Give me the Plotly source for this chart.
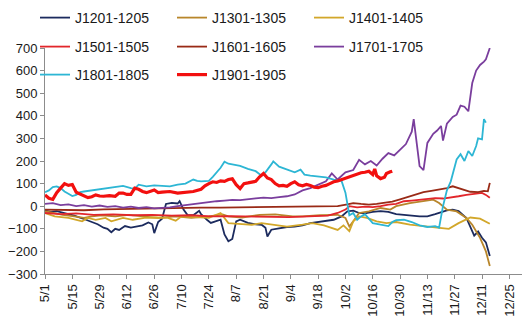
import pandas as pd
import plotly.graph_objects as go

# Spread of each contract pair, plotted on a common May-December calendar.
# Points are (days after May 1, spread value).
BASE = pd.Timestamp("2018-05-01")

j1201 = [(0, -20), (3, -25), (6, -22), (9, -30), (12, -35), (15, -42), (18, -50), (21, -60),
         (24, -70), (27, -80), (30, -95), (32, -100), (34, -115), (36, -100), (38, -105),
         (41, -88), (44, -95), (47, -90), (50, -85), (53, -72), (55, -80), (56, -119),
         (58, -70), (60, -55), (62, 10), (65, 15), (68, 12), (69, 22), (71, -15), (73, -38),
         (76, -40), (79, -20), (80, -35), (83, -60), (85, -74), (87, -68), (90, -60),
         (92, -125), (94, -155), (96, -145), (98, -67), (100, -60), (104, -74), (108, -80),
         (111, -82), (113, -95), (114, -134), (116, -104), (120, -98), (124, -92),
         (128, -90), (132, -85), (136, -75), (140, -70), (144, -65), (148, -60), (152, -45),
         (155, -23), (158, -20), (161, -30), (164, -32), (168, -25), (172, -22), (176, -25),
         (180, -35), (184, -40), (188, -42), (192, -45), (196, -45), (200, -35), (203, -25),
         (206, -18), (209, -15), (212, -22), (216, -52), (218, -90), (220, -130),
         (222, -112), (224, -140), (226, -160), (228, -220)]

j1301 = [(0, -22), (4, -30), (9, -38), (15, -45), (20, -52), (24, -45), (29, -40), (36, -45),
         (43, -38), (50, -45), (58, -52), (67, -45), (75, -52), (84, -45), (91, -36),
         (94, -45), (101, -50), (110, -38), (118, -36), (127, -45), (132, -45), (141, -40),
         (150, -38), (154, -52), (156, -90), (158, -67), (161, -30), (166, -23), (172, -8),
         (177, -15), (180, 0), (187, 14), (194, 22), (199, 29), (202, 14), (206, -15),
         (211, -23), (216, -52), (219, -82), (223, -140), (226, -200), (228, -265)]

j1401 = [(0, -30), (5, -45), (12, -52), (19, -67), (22, -52), (26, -60), (31, -52),
         (34, -67), (40, -52), (45, -60), (51, -52), (57, -50), (63, -52), (67, -64),
         (70, -45), (77, -48), (84, -52), (90, -30), (94, -75), (101, -79), (106, -82),
         (111, -75), (118, -82), (124, -90), (132, -82), (137, -75), (143, -85), (146, -95),
         (150, -105), (153, -85), (156, -110), (158, -67), (161, -45), (165, -52),
         (170, -67), (175, -75), (180, -70), (187, -82), (194, -90), (201, -95),
         (207, -100), (212, -75), (218, -50), (223, -55), (228, -78)]

j1501 = [(0, -30), (8, -35), (16, -32), (25, -38), (35, -36), (45, -40), (55, -38),
         (65, -42), (75, -40), (85, -45), (95, -44), (105, -46), (115, -45), (125, -48),
         (135, -45), (145, -42), (150, -30), (154, -15), (156, 0), (160, -5), (164, -2),
         (168, -4), (172, 0), (176, 7), (180, 10), (184, 22), (188, 25), (192, 29),
         (196, 32), (200, 36), (204, 34), (208, 38), (212, 44), (216, 50), (220, 56),
         (224, 59), (226, 50), (228, 37)]

j1601 = [(0, -15), (10, -15), (20, -18), (30, -14), (40, -12), (50, -12), (60, -10),
         (70, -8), (80, -6), (90, -6), (100, -5), (110, -4), (120, -2), (130, -2),
         (140, -1), (150, 0), (155, 8), (158, 14), (162, 10), (166, 7), (170, 10),
         (174, 14), (178, 20), (182, 30), (186, 40), (190, 52), (194, 62), (198, 68),
         (202, 74), (206, 80), (209, 88), (212, 80), (215, 70), (218, 64), (222, 62),
         (225, 68), (227, 66), (228, 103)]

j1701 = [(0, 10), (4, 14), (8, 5), (12, 8), (16, 0), (20, 5), (24, -2), (28, 3), (32, -3),
         (36, 0), (40, -6), (44, -2), (48, -8), (52, -4), (56, -10), (60, -8), (64, -5),
         (68, 0), (72, 5), (76, 10), (80, 14), (84, 20), (88, 22), (92, 25), (96, 28),
         (100, 27), (104, 32), (108, 35), (112, 38), (116, 36), (120, 40), (124, 44),
         (128, 52), (132, 70), (136, 80), (140, 95), (144, 110), (147, 145), (150, 118),
         (154, 150), (158, 160), (161, 205), (164, 185), (167, 200), (170, 180), (173, 210),
         (176, 235), (179, 225), (182, 248), (185, 275), (188, 330), (189, 385), (192, 177),
         (194, 160), (196, 280), (199, 320), (201, 335), (203, 355), (204, 290), (206, 365),
         (209, 395), (211, 405), (213, 445), (215, 440), (217, 420), (219, 545), (221, 600),
         (223, 625), (225, 640), (226, 650), (228, 700)]

j1801 = [(0, 62), (2, 70), (4, 85), (6, 88), (8, 80), (10, 65), (12, 55), (14, 45), (16, 50),
         (18, 62), (20, 65), (24, 70), (28, 75), (32, 80), (36, 88), (40, 90), (44, 80),
         (46, 78), (48, 95), (52, 88), (56, 92), (60, 90), (64, 88), (68, 95), (72, 100),
         (76, 118), (78, 112), (80, 110), (84, 112), (86, 130), (88, 150), (90, 170),
         (92, 197), (94, 188), (96, 185), (100, 178), (104, 165), (108, 155), (111, 135),
         (113, 150), (116, 185), (117, 198), (120, 175), (124, 162), (128, 150), (131, 162),
         (133, 140), (136, 135), (140, 130), (144, 128), (148, 118), (152, 112), (154, 60),
         (156, -40), (158, -30), (160, -60), (162, -45), (164, -35), (166, -55), (168, -75),
         (172, -82), (176, -88), (178, -70), (180, -62), (184, -60), (188, -70), (192, -85),
         (196, -92), (200, -88), (202, -95), (204, 0), (206, 70), (208, 110), (210, 175),
         (211, 207), (213, 230), (215, 200), (217, 244), (219, 222), (221, 266), (222, 300),
         (224, 296), (225, 385), (226, 370)]

j1901 = [(0, 50), (2, 35), (4, 30), (6, 60), (8, 80), (10, 100), (12, 92), (14, 96), (16, 62),
         (18, 55), (20, 48), (22, 38), (24, 42), (26, 50), (28, 45), (30, 44), (33, 47),
         (36, 44), (38, 58), (40, 58), (42, 52), (44, 52), (46, 80), (48, 75), (50, 65),
         (52, 60), (56, 72), (58, 60), (60, 62), (64, 65), (68, 58), (72, 60), (76, 65),
         (80, 75), (82, 90), (84, 100), (86, 108), (88, 105), (90, 112), (92, 110), (94, 118),
         (96, 121), (98, 95), (100, 78), (102, 100), (104, 103), (108, 110), (110, 130),
         (112, 145), (114, 125), (116, 118), (118, 100), (120, 90), (122, 92), (124, 88),
         (126, 100), (128, 108), (130, 95), (132, 90), (134, 96), (136, 92), (138, 84),
         (140, 82), (142, 88), (144, 92), (146, 100), (148, 108), (150, 112), (152, 118),
         (154, 125), (156, 132), (158, 138), (160, 142), (162, 148), (164, 150), (166, 155),
         (168, 140), (169, 165), (170, 135), (172, 122), (174, 128), (175, 145), (177, 152),
         (178, 155)]

names = ["J1201-1205", "J1301-1305", "J1401-1405", "J1501-1505",
         "J1601-1605", "J1701-1705", "J1801-1805", "J1901-1905"]
data = [j1201, j1301, j1401, j1501, j1601, j1701, j1801, j1901]
colors = ["#1C2B5E", "#B8862B", "#D2A72A", "#E2262B",
          "#992A16", "#7A3E9D", "#2DB6D4", "#F2100F"]
widths = [1.8, 1.8, 1.8, 1.8, 1.8, 1.8, 1.8, 3.2]
legend_rows = ["legend", "legend", "legend", "legend2", "legend2", "legend2",
               "legend3", "legend3"]

FONT = "Liberation Sans, Arial, sans-serif"
AXIS_GREY = "#8c8c8c"

fig = go.Figure()
for name, pts, color, width, lg in zip(names, data, colors, widths, legend_rows):
    fig.add_trace(go.Scatter(
        x=[BASE + pd.Timedelta(days=d) for d, _ in pts],
        y=[v for _, v in pts],
        mode="lines",
        name=name,
        line=dict(color=color, width=width),
        legend=lg,
    ))

# one legend per row, three entries across
legend_style = dict(
    orientation="h",
    xref="container", yref="container",
    x=35 / 528, xanchor="left", yanchor="middle",
    entrywidth=92, entrywidthmode="pixels",
    bgcolor="rgba(0,0,0,0)",
    font=dict(family=FONT, size=14, color="#1a1a1a"),
)

fig.update_layout(
    width=528, height=324,
    margin=dict(l=45, r=6, t=48, b=50, autoexpand=False),
    paper_bgcolor="white", plot_bgcolor="white",
    font=dict(family=FONT, size=13, color="#1a1a1a"),
    legend=dict(y=1 - 18 / 324, **legend_style),
    legend2=dict(y=1 - 47 / 324, **legend_style),
    legend3=dict(y=1 - 75 / 324, **legend_style),
    xaxis=dict(
        type="date",
        range=["2018-05-01", "2018-12-31 12:00"],
        tick0="2018-05-01", dtick=14 * 86400000,
        tickformat="%-m/%-d", tickangle=-90,
        ticks="outside", ticklen=4, tickcolor=AXIS_GREY,
        showline=True, linecolor=AXIS_GREY, linewidth=1,
        showgrid=False, zeroline=False,
        tickfont=dict(family=FONT, size=13, color="#1a1a1a"),
    ),
    yaxis=dict(
        range=[-300, 700], tick0=-300, dtick=100,
        ticks="outside", ticklen=4, tickcolor=AXIS_GREY,
        showline=True, linecolor=AXIS_GREY, linewidth=1,
        showgrid=False, zeroline=False,
        tickfont=dict(family=FONT, size=13, color="#1a1a1a"),
    ),
)

fig.write_html("out.html")
